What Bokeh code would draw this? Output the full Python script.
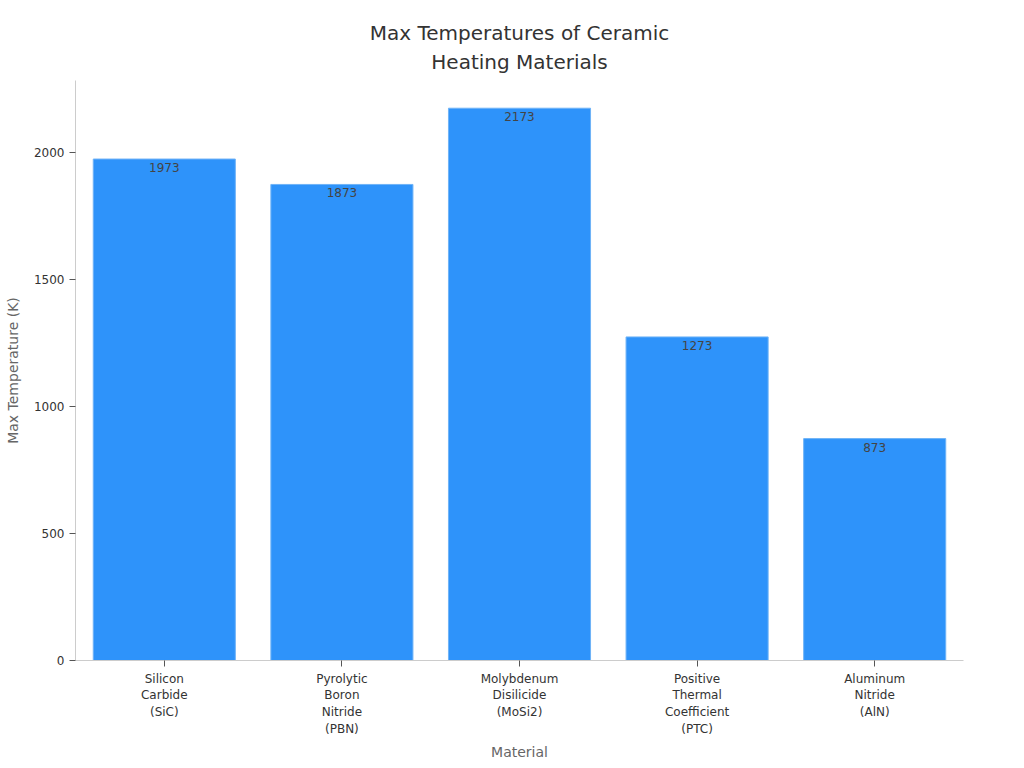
from bokeh.plotting import figure
from bokeh.models import ColumnDataSource, FixedTicker, Range1d, LabelSet, Title
from bokeh.core.properties import value
from bokeh.embed import file_html
from bokeh.resources import INLINE

materials = ["Silicon\nCarbide\n(SiC)", "Pyrolytic\nBoron\nNitride\n(PBN)",
             "Molybdenum\nDisilicide\n(MoSi2)", "Positive\nThermal\nCoefficient\n(PTC)",
             "Aluminum\nNitride\n(AlN)"]
max_temps = [1973, 1873, 2173, 1273, 873]
y_ticks = [0, 500, 1000, 1500, 2000]

FONT = "DejaVu Sans"

src = ColumnDataSource(data=dict(mat=materials, temp=max_temps,
                                 lbl=[str(t) for t in max_temps]))

p = figure(x_range=materials, width=1016, height=762, title=None,
           output_backend="svg", toolbar_location=None,
           min_border_left=75, min_border_right=53,
           min_border_top=80, min_border_bottom=100)
p.y_range = Range1d(0, 2282)

# two-line title, each line centred
for txt, gap, va in [("Heating Materials", 10, "top"),
                     ("Max Temperatures of Ceramic", 0, "bottom")]:
    p.add_layout(Title(text=txt, align="center", text_font=FONT,
                       text_font_size="20px", text_font_style="normal",
                       text_color="#333333", standoff=gap,
                       vertical_align=va), "above")

p.vbar(x="mat", top="temp", width=0.8, source=src,
       fill_color="#2E93FA", line_color="#6fb3f7", line_width=1)

labels = LabelSet(x="mat", y="temp", text="lbl", source=src,
                  text_align="center", text_baseline="top", y_offset=-4,
                  text_font=value(FONT), text_font_size="12px",
                  text_color="#444444")
p.add_layout(labels)

p.outline_line_color = None
p.xgrid.grid_line_color = None
p.ygrid.grid_line_color = None

p.yaxis.ticker = FixedTicker(ticks=y_ticks)
p.yaxis.axis_label = "Max Temperature (K)"
p.yaxis.axis_label_standoff = 10
p.xaxis.axis_label = "Material"
for ax in (p.xaxis, p.yaxis):
    ax.axis_line_color = "#cccccc"
    ax.major_tick_line_color = "#555555"
    ax.minor_tick_line_color = None
    ax.major_tick_out = 6
    ax.major_tick_in = 0
    ax.major_label_text_font = FONT
    ax.major_label_text_font_size = "12px"
    ax.major_label_text_color = "#333333"
    ax.axis_label_text_font = FONT
    ax.axis_label_text_font_size = "14px"
    ax.axis_label_text_font_style = "normal"
    ax.axis_label_text_color = "#666666"

open("out.html", "w").write(file_html(p, INLINE))
